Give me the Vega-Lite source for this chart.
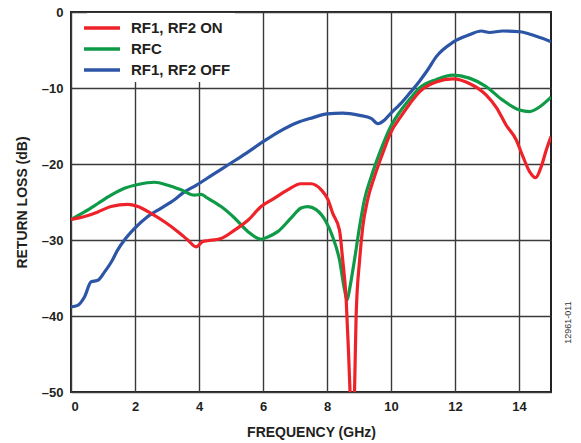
{
  "$schema": "https://vega.github.io/schema/vega-lite/v6.json",
  "width": 480,
  "height": 380,
  "autosize": {"type": "none"},
  "padding": {"left": 71, "top": 12, "right": 30, "bottom": 51},
  "background": "white",
  "config": {
    "font": "Liberation Sans",
    "view": {"stroke": "#222222", "strokeWidth": 2}
  },
  "data": {
    "values": [
      {"s": "RF1, RF2 OFF", "f": 0.0, "db": -38.8},
      {"s": "RF1, RF2 OFF", "f": 0.21, "db": -38.6},
      {"s": "RF1, RF2 OFF", "f": 0.42, "db": -37.5},
      {"s": "RF1, RF2 OFF", "f": 0.63, "db": -35.5},
      {"s": "RF1, RF2 OFF", "f": 0.84, "db": -35.3},
      {"s": "RF1, RF2 OFF", "f": 1.05, "db": -34.2},
      {"s": "RF1, RF2 OFF", "f": 1.26, "db": -32.9},
      {"s": "RF1, RF2 OFF", "f": 1.46, "db": -31.3},
      {"s": "RF1, RF2 OFF", "f": 1.67, "db": -30.0},
      {"s": "RF1, RF2 OFF", "f": 1.98, "db": -28.5},
      {"s": "RF1, RF2 OFF", "f": 2.4, "db": -26.9},
      {"s": "RF1, RF2 OFF", "f": 2.82, "db": -25.8},
      {"s": "RF1, RF2 OFF", "f": 3.23, "db": -24.7},
      {"s": "RF1, RF2 OFF", "f": 3.5, "db": -23.8},
      {"s": "RF1, RF2 OFF", "f": 3.91, "db": -22.8},
      {"s": "RF1, RF2 OFF", "f": 4.43, "db": -21.4},
      {"s": "RF1, RF2 OFF", "f": 4.95, "db": -20.0},
      {"s": "RF1, RF2 OFF", "f": 5.47, "db": -18.6},
      {"s": "RF1, RF2 OFF", "f": 5.99, "db": -17.1},
      {"s": "RF1, RF2 OFF", "f": 6.52, "db": -15.7},
      {"s": "RF1, RF2 OFF", "f": 7.04, "db": -14.6},
      {"s": "RF1, RF2 OFF", "f": 7.56, "db": -13.9},
      {"s": "RF1, RF2 OFF", "f": 8.0, "db": -13.4},
      {"s": "RF1, RF2 OFF", "f": 8.49, "db": -13.3},
      {"s": "RF1, RF2 OFF", "f": 9.02, "db": -13.6},
      {"s": "RF1, RF2 OFF", "f": 9.38, "db": -14.0},
      {"s": "RF1, RF2 OFF", "f": 9.59, "db": -14.7},
      {"s": "RF1, RF2 OFF", "f": 9.8, "db": -14.2},
      {"s": "RF1, RF2 OFF", "f": 10.0, "db": -13.3},
      {"s": "RF1, RF2 OFF", "f": 10.27, "db": -12.2},
      {"s": "RF1, RF2 OFF", "f": 10.58, "db": -10.7},
      {"s": "RF1, RF2 OFF", "f": 10.89, "db": -9.1},
      {"s": "RF1, RF2 OFF", "f": 11.15, "db": -7.6},
      {"s": "RF1, RF2 OFF", "f": 11.41, "db": -5.9},
      {"s": "RF1, RF2 OFF", "f": 11.93, "db": -4.0},
      {"s": "RF1, RF2 OFF", "f": 12.45, "db": -3.0},
      {"s": "RF1, RF2 OFF", "f": 12.82, "db": -2.5},
      {"s": "RF1, RF2 OFF", "f": 13.08, "db": -2.7},
      {"s": "RF1, RF2 OFF", "f": 13.49, "db": -2.5},
      {"s": "RF1, RF2 OFF", "f": 14.02, "db": -2.6},
      {"s": "RF1, RF2 OFF", "f": 14.54, "db": -3.2},
      {"s": "RF1, RF2 OFF", "f": 15.0, "db": -3.9},

      {"s": "RFC", "f": 0.0, "db": -27.3},
      {"s": "RFC", "f": 0.42, "db": -26.3},
      {"s": "RFC", "f": 0.84, "db": -25.2},
      {"s": "RFC", "f": 1.25, "db": -24.1},
      {"s": "RFC", "f": 1.67, "db": -23.2},
      {"s": "RFC", "f": 2.09, "db": -22.7},
      {"s": "RFC", "f": 2.61, "db": -22.4},
      {"s": "RFC", "f": 3.03, "db": -22.8},
      {"s": "RFC", "f": 3.44, "db": -23.4},
      {"s": "RFC", "f": 3.86, "db": -24.1},
      {"s": "RFC", "f": 4.07, "db": -24.0},
      {"s": "RFC", "f": 4.27, "db": -24.5},
      {"s": "RFC", "f": 4.69, "db": -25.6},
      {"s": "RFC", "f": 5.11, "db": -27.1},
      {"s": "RFC", "f": 5.53, "db": -28.9},
      {"s": "RFC", "f": 5.94, "db": -29.9},
      {"s": "RFC", "f": 6.15, "db": -29.6},
      {"s": "RFC", "f": 6.46, "db": -28.9},
      {"s": "RFC", "f": 6.88, "db": -27.1},
      {"s": "RFC", "f": 7.19, "db": -25.8},
      {"s": "RFC", "f": 7.4, "db": -25.6},
      {"s": "RFC", "f": 7.66, "db": -26.0},
      {"s": "RFC", "f": 7.97, "db": -27.6},
      {"s": "RFC", "f": 8.18, "db": -29.6},
      {"s": "RFC", "f": 8.39, "db": -32.6},
      {"s": "RFC", "f": 8.55, "db": -36.6},
      {"s": "RFC", "f": 8.63, "db": -37.9},
      {"s": "RFC", "f": 8.7, "db": -36.6},
      {"s": "RFC", "f": 8.86, "db": -32.6},
      {"s": "RFC", "f": 9.02, "db": -28.2},
      {"s": "RFC", "f": 9.17, "db": -24.7},
      {"s": "RFC", "f": 9.38, "db": -21.7},
      {"s": "RFC", "f": 9.64, "db": -18.6},
      {"s": "RFC", "f": 10.0, "db": -15.0},
      {"s": "RFC", "f": 10.3, "db": -13.0},
      {"s": "RFC", "f": 10.6, "db": -11.4},
      {"s": "RFC", "f": 10.89, "db": -10.0},
      {"s": "RFC", "f": 11.41, "db": -8.9},
      {"s": "RFC", "f": 11.93, "db": -8.3},
      {"s": "RFC", "f": 12.45, "db": -8.7},
      {"s": "RFC", "f": 12.97, "db": -9.8},
      {"s": "RFC", "f": 13.49, "db": -11.6},
      {"s": "RFC", "f": 14.02, "db": -12.9},
      {"s": "RFC", "f": 14.33, "db": -13.1},
      {"s": "RFC", "f": 14.64, "db": -12.5},
      {"s": "RFC", "f": 15.0, "db": -11.2},

      {"s": "RF1, RF2 ON", "f": 0.0, "db": -27.3},
      {"s": "RF1, RF2 ON", "f": 0.42, "db": -26.9},
      {"s": "RF1, RF2 ON", "f": 0.84, "db": -26.3},
      {"s": "RF1, RF2 ON", "f": 1.25, "db": -25.6},
      {"s": "RF1, RF2 ON", "f": 1.78, "db": -25.3},
      {"s": "RF1, RF2 ON", "f": 2.09, "db": -25.6},
      {"s": "RF1, RF2 ON", "f": 2.5, "db": -26.5},
      {"s": "RF1, RF2 ON", "f": 2.92, "db": -27.6},
      {"s": "RF1, RF2 ON", "f": 3.34, "db": -28.9},
      {"s": "RF1, RF2 ON", "f": 3.65, "db": -30.0},
      {"s": "RF1, RF2 ON", "f": 3.91, "db": -30.9},
      {"s": "RF1, RF2 ON", "f": 4.12, "db": -30.2},
      {"s": "RF1, RF2 ON", "f": 4.27, "db": -30.1},
      {"s": "RF1, RF2 ON", "f": 4.69, "db": -29.8},
      {"s": "RF1, RF2 ON", "f": 5.11, "db": -28.7},
      {"s": "RF1, RF2 ON", "f": 5.53, "db": -27.4},
      {"s": "RF1, RF2 ON", "f": 5.94, "db": -25.6},
      {"s": "RF1, RF2 ON", "f": 6.36, "db": -24.5},
      {"s": "RF1, RF2 ON", "f": 6.77, "db": -23.4},
      {"s": "RF1, RF2 ON", "f": 7.19, "db": -22.6},
      {"s": "RF1, RF2 ON", "f": 7.5, "db": -22.6},
      {"s": "RF1, RF2 ON", "f": 7.82, "db": -23.4},
      {"s": "RF1, RF2 ON", "f": 8.03, "db": -24.7},
      {"s": "RF1, RF2 ON", "f": 8.18, "db": -26.5},
      {"s": "RF1, RF2 ON", "f": 8.39, "db": -28.7},
      {"s": "RF1, RF2 ON", "f": 8.49, "db": -32.6},
      {"s": "RF1, RF2 ON", "f": 8.6, "db": -37.9},
      {"s": "RF1, RF2 ON", "f": 8.67, "db": -44.5},
      {"s": "RF1, RF2 ON", "f": 8.72, "db": -50.0},
      {"s": "RF1, RF2 ON", "f": 8.79, "db": -58.0},
      {"s": "RF1, RF2 ON", "f": 8.86, "db": -50.0},
      {"s": "RF1, RF2 ON", "f": 8.91, "db": -40.0},
      {"s": "RF1, RF2 ON", "f": 9.02, "db": -32.6},
      {"s": "RF1, RF2 ON", "f": 9.12, "db": -28.2},
      {"s": "RF1, RF2 ON", "f": 9.27, "db": -24.7},
      {"s": "RF1, RF2 ON", "f": 9.48, "db": -21.7},
      {"s": "RF1, RF2 ON", "f": 9.74, "db": -18.6},
      {"s": "RF1, RF2 ON", "f": 10.0, "db": -15.8},
      {"s": "RF1, RF2 ON", "f": 10.3, "db": -13.8},
      {"s": "RF1, RF2 ON", "f": 10.6, "db": -12.0},
      {"s": "RF1, RF2 ON", "f": 10.89, "db": -10.5},
      {"s": "RF1, RF2 ON", "f": 11.41, "db": -9.2},
      {"s": "RF1, RF2 ON", "f": 11.93, "db": -8.8},
      {"s": "RF1, RF2 ON", "f": 12.45, "db": -9.4},
      {"s": "RF1, RF2 ON", "f": 12.97, "db": -10.9},
      {"s": "RF1, RF2 ON", "f": 13.3, "db": -12.6},
      {"s": "RF1, RF2 ON", "f": 13.6, "db": -14.9},
      {"s": "RF1, RF2 ON", "f": 13.91, "db": -16.8},
      {"s": "RF1, RF2 ON", "f": 14.12, "db": -19.0},
      {"s": "RF1, RF2 ON", "f": 14.33, "db": -21.0},
      {"s": "RF1, RF2 ON", "f": 14.52, "db": -21.8},
      {"s": "RF1, RF2 ON", "f": 14.69, "db": -20.4},
      {"s": "RF1, RF2 ON", "f": 14.85, "db": -18.2},
      {"s": "RF1, RF2 ON", "f": 15.0, "db": -16.4}
    ]
  },
  "resolve": {"axis": {"y": "independent"}},
  "layer": [
    {
      "mark": {"type": "line", "strokeWidth": 3.2, "clip": true, "interpolate": "monotone"},
      "encoding": {
        "x": {
          "field": "f",
          "type": "quantitative",
          "scale": {"domain": [0, 15], "nice": false},
          "axis": {
            "title": "FREQUENCY (GHz)",
            "values": [0, 2, 4, 6, 8, 10, 12, 14],
            "grid": true,
            "gridColor": "#3a3a3a",
            "gridWidth": 1.4,
            "gridOpacity": 1,
            "domain": false,
            "ticks": false,
            "labelFontSize": 13,
            "labelFontWeight": "bold",
            "labelColor": "#231f20",
            "labelPadding": 8,
            "titleFontSize": 14,
            "titleFontWeight": "bold",
            "titleColor": "#231f20",
            "titlePadding": 12
          }
        },
        "y": {
          "field": "db",
          "type": "quantitative",
          "scale": {"domain": [-50, 0], "nice": false},
          "axis": {
            "title": "RETURN LOSS (dB)",
            "values": [0, -10, -20, -30, -40, -50],
            "labelExpr": "datum.value == 0 ? '0' : '–' + abs(datum.value)",
            "grid": true,
            "gridColor": "#3a3a3a",
            "gridWidth": 1.4,
            "gridOpacity": 1,
            "domain": false,
            "ticks": false,
            "labelFontSize": 13,
            "labelFontWeight": "bold",
            "labelColor": "#231f20",
            "labelPadding": 8,
            "titleFontSize": 14,
            "titleFontWeight": "bold",
            "titleColor": "#231f20",
            "titlePadding": 12
          }
        },
        "color": {
          "field": "s",
          "type": "nominal",
          "scale": {
            "domain": ["RF1, RF2 ON", "RFC", "RF1, RF2 OFF"],
            "range": ["#ee2229", "#0f9a48", "#2c55a6"]
          },
          "legend": {
            "title": null,
            "orient": "none",
            "legendX": 16,
            "legendY": 1,
            "fillColor": "white",
            "padding": 4,
            "symbolType": "M-2,0H2",
            "symbolSize": 324,
            "symbolStrokeWidth": 3.5,
            "labelFontSize": 15,
            "labelFontWeight": "bold",
            "labelColor": "#231f20",
            "labelOffset": 18,
            "rowPadding": 2
          }
        },
        "order": {"field": "s"}
      }
    },
    {
      "mark": {"type": "rule", "opacity": 0},
      "encoding": {
        "y": {
          "datum": -50,
          "type": "quantitative",
          "axis": {
            "orient": "right",
            "title": "12961-011",
            "labels": false,
            "ticks": false,
            "domain": false,
            "grid": false,
            "titleAngle": -90,
            "titleY": 310,
            "titleX": 16,
            "titleAlign": "center",
            "titleBaseline": "middle",
            "titleFontSize": 9,
            "titleFontWeight": "normal",
            "titleColor": "#333333"
          }
        }
      }
    }
  ]
}
